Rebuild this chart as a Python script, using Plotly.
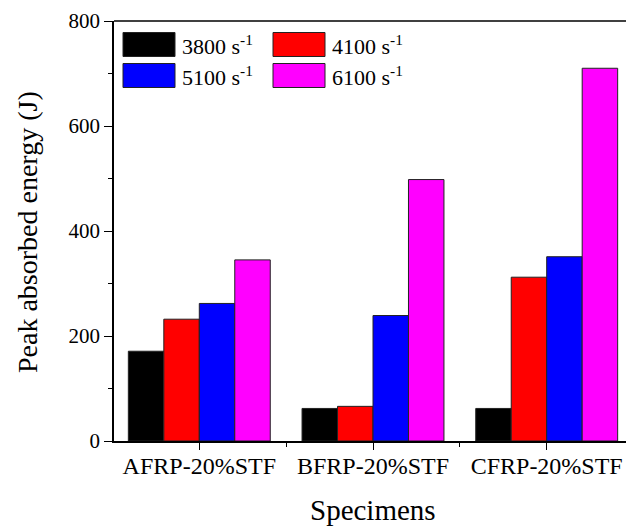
import plotly.graph_objects as go

# Specimen groups and strain-rate series (peak absorbed energy, J)
categories = ["AFRP-20%STF", "BFRP-20%STF", "CFRP-20%STF"]
series_names = ["3800 s<sup>-1</sup>", "4100 s<sup>-1</sup>",
                "5100 s<sup>-1</sup>", "6100 s<sup>-1</sup>"]
series_colors = ["#000000", "#ff0000", "#0000ff", "#ff00ff"]
energy_3800 = [171, 62, 62]
energy_4100 = [232, 66, 312]
energy_5100 = [262, 239, 351]
energy_6100 = [345, 498, 710]
y_tick_vals = [0, 200, 400, 600, 800]

series_values = [energy_3800, energy_4100, energy_5100, energy_6100]

W, H = 626, 529
ML, MR, MT, MB = 114, 0, 21, 88
PW, PH = W - ML - MR, H - MT - MB

FONT = "Liberation Serif"


def px_x(p):
    return (p - ML) / PW


def px_y(p):
    return (H - MB - p) / PH


x_pos = list(range(len(categories)))

fig = go.Figure()
for name, color, vals in zip(series_names, series_colors, series_values):
    fig.add_trace(go.Bar(
        x=x_pos, y=vals, name=name,
        marker=dict(color=color, line=dict(color="#222222", width=1)),
        showlegend=False,
    ))

# Legend drawn as wide swatches in two columns
shapes = []
annotations = []
col_x = [123, 273]
row_y = [44.5, 75.5]
sw_w, sw_h = 52, 24
for i, (name, color) in enumerate(zip(series_names, series_colors)):
    cx = col_x[i % 2]
    cy = row_y[i // 2]
    shapes.append(dict(
        type="rect", xref="paper", yref="paper",
        x0=px_x(cx), x1=px_x(cx + sw_w),
        y0=px_y(cy + sw_h / 2), y1=px_y(cy - sw_h / 2),
        fillcolor=color, line=dict(color="#222222", width=1),
    ))
    annotations.append(dict(
        xref="paper", yref="paper", x=px_x(cx + sw_w + 5), y=px_y(cy),
        xanchor="left", yanchor="middle", showarrow=False,
        text=name, font=dict(family=FONT, size=22, color="#000000"),
    ))

# Top frame line
shapes.append(dict(
    type="line", xref="paper", yref="paper", x0=0, x1=1, y0=1, y1=1,
    line=dict(color="#000000", width=1.5),
))

# Axis titles
annotations.append(dict(
    xref="x", yref="paper", x=1, y=px_y(510),
    xanchor="center", yanchor="middle", showarrow=False,
    text="Specimens", font=dict(family=FONT, size=29, color="#000000"),
))
annotations.append(dict(
    xref="paper", yref="paper", x=px_x(27), y=px_y(232),
    xanchor="center", yanchor="middle", showarrow=False, textangle=-90,
    text="Peak absorbed energy (J)",
    font=dict(family=FONT, size=28, color="#000000"),
))

fig.update_layout(
    width=W, height=H,
    margin=dict(l=ML, r=MR, t=MT, b=MB, pad=0),
    paper_bgcolor="white", plot_bgcolor="white",
    barmode="group", bargap=0.183, bargroupgap=0,
    shapes=shapes, annotations=annotations,
    font=dict(family=FONT, color="#000000"),
)

unit = 173.7
x_left = -(199.3 - ML) / unit
x_right = x_left + PW / unit

fig.update_xaxes(
    range=[x_left, x_right],
    tickmode="array", tickvals=x_pos, ticktext=categories,
    ticks="outside", ticklen=7, tickwidth=1.3, tickcolor="#000000",
    ticklabelstandoff=-5,
    minor=dict(tickmode="array", tickvals=[0.5, 1.5], ticks="outside",
               ticklen=4, tickwidth=1.3, tickcolor="#000000"),
    showline=True, linecolor="#000000", linewidth=1.5,
    showgrid=False, zeroline=False,
    tickfont=dict(family=FONT, size=24, color="#000000"),
)
fig.update_yaxes(
    range=[0, 800],
    tickmode="array", tickvals=y_tick_vals,
    ticks="outside", ticklen=8, tickwidth=1.3, tickcolor="#000000",
    minor=dict(tickmode="linear", tick0=0, dtick=100, ticks="outside",
               ticklen=4, tickwidth=1.3, tickcolor="#000000"),
    showline=True, linecolor="#000000", linewidth=1.5,
    showgrid=False, zeroline=False,
    tickfont=dict(family=FONT, size=21, color="#000000"),
)

fig.write_html("out.html")
